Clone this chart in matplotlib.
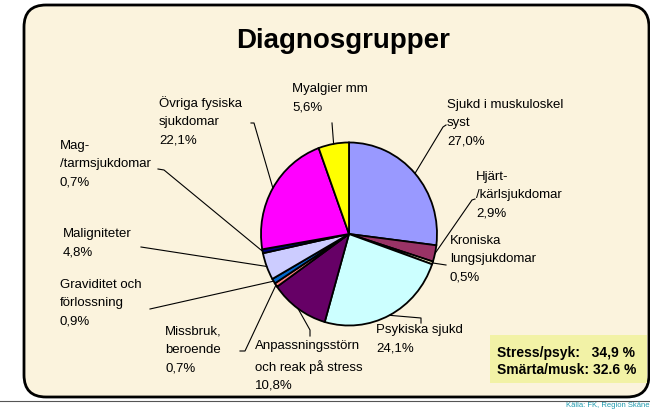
import numpy as np
import matplotlib
matplotlib.use('Agg')
import matplotlib.pyplot as plt
from matplotlib.patches import FancyBboxPatch, Rectangle
from matplotlib.transforms import Affine2D

plt.rcParams['font.family'] = ['Liberation Sans', 'DejaVu Sans']

# data
labels = ['Sjukd i muskuloskel\nsyst\n27,0%', 'Hjärt-\n/kärlsjukdomar\n2,9%',
          'Kroniska\nlungsjukdomar\n0,5%', 'Psykiska sjukd\n24,1%',
          'Anpassningsstörn\noch reak på stress\n10,8%', 'Missbruk,\nberoende\n0,7%',
          'Graviditet och\nförlossning\n0,9%', 'Maligniteter\n4,8%',
          'Mag-\n/tarmsjukdomar\n0,7%', 'Övriga fysiska\nsjukdomar\n22,1%',
          'Myalgier mm\n5,6%']
values = [27.0, 2.9, 0.5, 24.1, 10.8, 0.7, 0.9, 4.8, 0.7, 22.1, 5.6]
colors = ['#9999FF', '#993366', '#FFFFCC', '#CCFFFF', '#660066', '#FF8080',
          '#0066CC', '#CCCCFF', '#000080', '#FF00FF', '#FFFF00']

W, H = 650, 409
fig = plt.figure(figsize=(6.5, 4.09), dpi=100)
ax = fig.add_axes([0, 0, 1, 1])

def Y(y):
    return H - y

# frame
ax.add_patch(FancyBboxPatch((24, Y(397)), 625, 392, boxstyle='round,pad=0,rounding_size=22',
                            facecolor='#FBF3DD', edgecolor='black', lw=2, zorder=0))
ax.plot([0, W], [Y(401), Y(401)], color='#555555', lw=0.8)
ax.text(649, Y(401.5), 'Källa: FK, Region Skåne', color='#1E9AAE', fontsize=5.5,
        va='top', ha='right')

ax.text(343, Y(41), 'Diagnosgrupper', fontsize=20, fontweight='bold', ha='center', va='center')

# pie
cx, cy, r = 349, Y(234), 88
wedges, _ = ax.pie(values, colors=colors, startangle=90, counterclock=False,
                   center=(cx, cy), radius=r, frame=True,
                   wedgeprops=dict(edgecolor='black', linewidth=1.3))
ax.set_xlim(0, W)
ax.set_ylim(0, H)
ax.axis('off')
ax.set_aspect('auto')
sq = Affine2D().translate(-cx, -cy).scale(1, 1.04).translate(cx, cy)
for w in wedges:
    w.set_transform(sq + ax.transData)

# label positions (image px, top-left) and leader elbows
label_pos = [(447, 99), (476, 171), (450, 235), (376, 324), (255, 340), (165, 326),
             (60, 279), (63, 228), (60, 140), (159, 96), (292, 83)]
elbows = [[(446, 125), (443, 127)], [(475, 199), (472, 200)], [(446, 265)],
          [(421, 323), (421, 318)], [(310, 336), (310, 330)], [(240, 351), (245, 351)],
          [(150, 309)], [(141, 247)], [(158, 169), (164, 170)], [(251, 123), (254, 123)],
          [(332, 123)]]

for w, lab, (lx, ly), el in zip(wedges, labels, label_pos, elbows):
    mid = np.deg2rad((w.theta1 + w.theta2) / 2)
    ax_x = cx + r * np.cos(mid)
    ax_y = cy + r * 1.04 * np.sin(mid)
    xs = [p[0] for p in el] + [ax_x]
    ys = [Y(p[1]) for p in el] + [ax_y]
    ax.plot(xs, ys, color='black', lw=0.8, zorder=1)
    ax.text(lx, Y(ly), lab, fontsize=9.5, ha='left', va='top', linespacing=1.7)

# summary box
ax.add_patch(Rectangle((490, Y(383)), 157, 48, facecolor='#F2F2A6', edgecolor='none'))
ax.text(497, Y(353), 'Stress/psyk:   34,9 %', fontsize=10, fontweight='bold', va='center')
ax.text(497, Y(370), 'Smärta/musk: 32.6 %', fontsize=10, fontweight='bold', va='center')

fig.savefig('out.png', dpi=100)
